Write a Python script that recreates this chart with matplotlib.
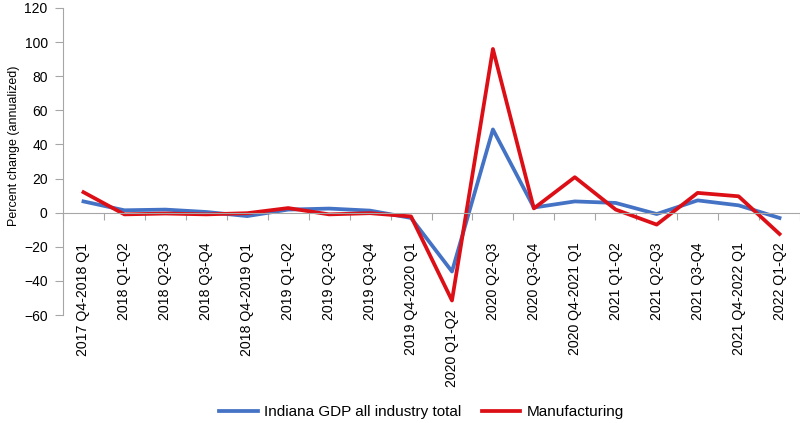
import matplotlib
matplotlib.use("Agg")
import matplotlib.pyplot as plt
import matplotlib.transforms as mtransforms

plt.rcParams["font.family"] = ["Liberation Sans", "DejaVu Sans"]

periods = [
    "2017 Q4-2018 Q1", "2018 Q1-Q2", "2018 Q2-Q3", "2018 Q3-Q4",
    "2018 Q4-2019 Q1", "2019 Q1-Q2", "2019 Q2-Q3", "2019 Q3-Q4",
    "2019 Q4-2020 Q1", "2020 Q1-Q2", "2020 Q2-Q3", "2020 Q3-Q4",
    "2020 Q4-2021 Q1", "2021 Q1-Q2", "2021 Q2-Q3", "2021 Q3-Q4",
    "2021 Q4-2022 Q1", "2022 Q1-Q2",
]
gdp_total = [6.6, 1.4, 1.8, 0.4, -2.0, 1.8, 2.4, 1.2, -3.1, -34.5,
             48.8, 3.0, 6.6, 5.7, -0.8, 7.2, 4.3, -3.1]
manufacturing = [12.0, -1.0, -0.5, -1.0, -0.3, 2.7, -1.0, -0.3, -2.2, -51.5,
                 96.0, 2.5, 20.8, 1.8, -7.0, 11.6, 9.6, -12.5]

fig = plt.figure(figsize=(8, 4.23), dpi=100)
ax = fig.add_axes([63 / 800, (423 - 315) / 423, 737 / 800, 307 / 423])

x = list(range(len(periods)))
ax.plot(x, gdp_total, color="#4472C4", lw=2.7, label="Indiana GDP all industry total")
ax.plot(x, manufacturing, color="#DC0F17", lw=2.7, label="Manufacturing")

ax.set_xlim(-0.5, len(periods) - 0.5)
ax.set_ylim(-60, 120)
ax.set_yticks(range(-60, 121, 20))
ax.tick_params(axis="y", labelsize=10, colors="#A6A6A6", labelcolor="black",
               length=6, pad=5)
ax.set_ylabel("Percent change (annualized)", fontsize=9, labelpad=5)
ax.yaxis.set_label_coords(-0.058, 0.55)

for s in ["top", "right"]:
    ax.spines[s].set_visible(False)
ax.spines["left"].set_color("#A6A6A6")
ax.spines["bottom"].set_color("#A6A6A6")
ax.spines["bottom"].set_position(("data", 0))

# tick marks between categories on the zero line
ax.set_xticks([i - 0.5 for i in range(len(periods) + 1)])
ax.tick_params(axis="x", labelbottom=False, colors="#A6A6A6", length=5)

# category labels
sec = ax.secondary_xaxis(0.25)
sec.set_xticks(x)
sec.set_xticklabels(periods, rotation=90, fontsize=10.2)
sec.tick_params(length=0, pad=3)
sec.spines["bottom"].set_visible(False)
lbls = sec.get_xticklabels()
lbls[9].set_transform(lbls[9].get_transform()
                      + mtransforms.ScaledTranslation(0, -0.67, fig.dpi_scale_trans))

fig.legend(loc="center", ncol=2, frameon=False, fontsize=11,
           bbox_to_anchor=(0.527, (423 - 412) / 423), handlelength=2.5,
           handletextpad=0.4, columnspacing=1.4)

fig.savefig("out.png", dpi=100)
